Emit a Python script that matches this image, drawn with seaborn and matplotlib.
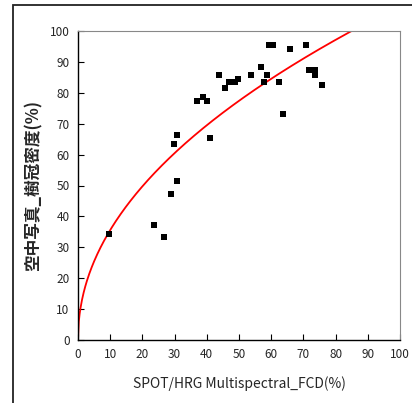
import numpy as np
import pandas as pd
import matplotlib
matplotlib.use("Agg")
import matplotlib.pyplot as plt
import seaborn as sns
from matplotlib.patches import Rectangle

sns.set_style("ticks")
plt.rcParams['font.family'] = ['Noto Sans CJK JP', 'DejaVu Sans']

# data
fcd_x = [59.4, 60.7, 65.9, 70.7, 56.7, 43.9, 53.8, 58.6, 71.8, 73.6, 73.6, 75.9,
         47.0, 48.7, 49.8, 45.7, 57.9, 62.5, 36.9, 38.7, 40.0, 63.7, 41.0, 30.6,
         29.9, 30.6, 28.9, 23.7, 26.7, 9.7]
crown_y = [95.5, 95.5, 94.3, 95.5, 88.5, 85.7, 85.7, 85.7, 87.3, 87.3, 85.7, 82.4,
           83.6, 83.6, 84.4, 81.6, 83.6, 83.6, 77.4, 78.7, 77.4, 73.2, 65.5, 66.2,
           63.3, 51.4, 47.2, 37.3, 33.2, 34.4]
# power trendline y = a * x^b (coefficients)
trend_a = 11.7
trend_b = 0.483
x_ticks = [0, 10, 20, 30, 40, 50, 60, 70, 80, 90, 100]
y_ticks = [0, 10, 20, 30, 40, 50, 60, 70, 80, 90, 100]
xlabel = "SPOT/HRG Multispectral_FCD(%)"
ylabel = "空中写真_樹冠密度(%)"

df = pd.DataFrame({"x": fcd_x, "y": crown_y})
tx = np.linspace(0, 100, 400)
trend = pd.DataFrame({"x": tx, "y": trend_a * tx ** trend_b})

fig = plt.figure(figsize=(4.12, 4.03), dpi=100)
ax = fig.add_axes([78/412, 63/403, 322/412, 309/403])

sns.lineplot(data=trend, x="x", y="y", ax=ax, color="red", linewidth=1.3, zorder=2)
sns.scatterplot(data=df, x="x", y="y", ax=ax, color="black", marker="s", s=24,
                edgecolor="black", linewidth=0, zorder=3)

ax.set_xlim(0, 100)
ax.set_ylim(0, 100)
ax.set_xticks(x_ticks)
ax.set_yticks(y_ticks)
ax.tick_params(direction="in", length=4, width=0.8, labelsize=8.5, pad=6, color="black")
ax.spines["left"].set_color("black")
ax.spines["bottom"].set_color("black")
ax.spines["left"].set_linewidth(1.0)
ax.spines["bottom"].set_linewidth(1.0)
ax.spines["top"].set_color("#888888")
ax.spines["right"].set_color("#888888")
ax.set_xlabel(xlabel, fontsize=10, labelpad=11)
ax.set_ylabel(ylabel, fontsize=12, labelpad=5, fontweight="bold")

fig.patches.append(Rectangle((12.5/412, -0.1), 1.2, 1.1 - 5/403, transform=fig.transFigure,
                             fill=False, edgecolor="#222222", linewidth=1.3))

fig.savefig("out.png", dpi=100)
